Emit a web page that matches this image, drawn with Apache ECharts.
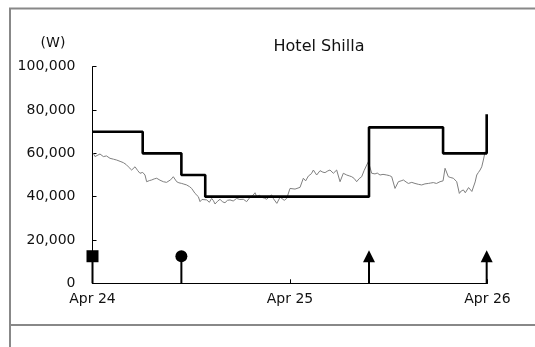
<!DOCTYPE html>
<html>
<head>
<meta charset="utf-8">
<script src="https://cdn.jsdelivr.net/npm/echarts@6/dist/echarts.min.js"></script>
<style>html,body{margin:0;padding:0;background:#fff}#c{width:535px;height:347px}</style>
</head>
<body>
<div id="c"></div>
<script>
// x values are hours from Apr 24 00:00
var xTickLabels = ['Apr 24', 'Apr 25', 'Apr 26'];
var yTickValues = [0, 20000, 40000, 60000, 80000, 100000];
var priceHours = [0.10,0.30,0.91,1.32,1.70,2.13,2.55,2.94,3.35,3.75,4.10,4.35,4.76,5.17,5.50,5.77,6.10,6.38,6.58,6.90,7.19,7.50,7.80,8.20,8.61,9.00,9.22,9.50,9.82,10.23,10.50,10.84,11.10,11.44,11.80,12.05,12.46,12.86,13.07,13.30,13.47,13.88,14.20,14.48,14.70,14.89,15.20,15.50,15.80,16.10,16.40,16.71,17.10,17.52,17.90,18.33,18.73,19.14,19.45,19.75,19.95,20.30,20.56,20.90,21.17,21.50,21.77,22.00,22.18,22.40,22.58,22.80,22.99,23.30,23.60,23.84,24.00,24.61,25.22,25.62,25.90,26.23,26.60,26.84,27.24,27.65,28.00,28.26,28.60,28.86,29.27,29.67,30.08,30.48,30.89,31.20,31.50,31.80,32.10,32.40,32.71,33.00,33.32,33.52,33.93,34.33,34.60,34.94,35.30,35.75,36.10,36.36,36.76,37.17,37.50,37.78,38.10,38.38,38.80,39.19,39.60,40.00,40.40,40.81,41.10,41.42,41.80,42.23,42.60,42.84,43.24,43.55,43.85,44.26,44.58,44.80,45.07,45.30,45.47,45.70,45.88,46.10,46.29,46.50,46.69,46.90,47.10,47.30,47.50,47.71,47.91];
var priceValues = [60000,58500,59700,58500,58800,57700,57300,56900,56300,55700,54800,53800,52300,53800,52000,50800,51200,50000,46900,47400,47700,48200,48500,47600,46900,46600,46100,47800,49200,46900,46400,46100,45800,45400,44600,43800,41500,40000,37700,38700,39200,38500,37400,39200,38100,36600,37900,38800,37600,37200,38300,38500,38000,39200,38700,38800,37700,39700,40400,41800,40000,40600,39700,39300,38800,40000,40800,39000,38500,36900,37700,39800,39200,38300,39200,39500,43800,43500,44300,48500,47300,49500,50600,52300,50000,52000,51300,51100,51900,52300,50800,52300,46900,50800,50000,49600,49200,48400,46900,48300,49200,52000,54600,56100,50800,50500,50900,50000,50300,50000,49700,49200,43800,46900,47300,47700,46800,46100,46600,46100,45700,45400,45900,46100,46300,46500,46100,46900,47300,53100,49200,48800,48500,46900,41500,42600,43100,41800,42300,44200,44600,42400,43100,46800,50000,51200,52300,53800,56900,60800];
var offerHours = [0, 6.1, 10.8, 13.7, 33.6, 42.6, 47.9];
var offerValues = [70000, 60000, 50000, 40000, 72000, 60000, 78000];
var eventHours = [0, 10.8, 33.6, 47.9];
var eventLevel = [12500, 12500, 12500, 12500];
var eventSymbols = ['rect', 'circle', 'triangle', 'triangle'];
var yUnit = '(W)';
var chartTitle = 'Hotel Shilla';

var chart = echarts.init(document.getElementById('c'), null, {renderer: 'canvas'});
var font = 'DejaVu Sans';
var textColor = '#111';
var priceData = priceHours.map(function (h, i) { return [h, priceValues[i]]; });
var offerData = offerHours.map(function (h, i) { return [h, offerValues[i]]; });
var stemData = eventHours.map(function (h, i) { return [h, eventLevel[i]]; });
var eventData = eventHours.map(function (h, i) {
  return { value: [h, eventLevel[i]], symbol: eventSymbols[i] };
});

chart.setOption({
  animation: false,
  backgroundColor: '#fff',
  grid: { left: 92.5, right: 47.5, top: 66.7, bottom: 63.7 },
  xAxis: {
    type: 'value', min: 0, max: 48, interval: 24,
    axisLine: { lineStyle: { color: '#000', width: 1 } },
    axisTick: { inside: true, length: 4, lineStyle: { color: '#000' } },
    splitLine: { show: false },
    axisLabel: {
      margin: 9, color: textColor, fontFamily: font, fontSize: 14,
      formatter: function (v) { return xTickLabels[Math.round(v / 24)]; }
    }
  },
  yAxis: {
    type: 'value', min: yTickValues[0], max: yTickValues[yTickValues.length - 1],
    interval: yTickValues[1] - yTickValues[0],
    axisLine: { show: true, lineStyle: { color: '#000', width: 1 } },
    axisTick: { show: true, inside: true, length: 4, lineStyle: { color: '#000' } },
    splitLine: { show: false },
    axisLabel: {
      margin: 17, color: textColor, fontFamily: font, fontSize: 14,
      formatter: function (v) { return v.toLocaleString('en-US'); }
    }
  },
  graphic: [
    { type: 'line', shape: { x1: 9, y1: 8.5, x2: 535, y2: 8.5 }, style: { stroke: '#888', lineWidth: 2 } },
    { type: 'line', shape: { x1: 10, y1: 8, x2: 10, y2: 347 }, style: { stroke: '#888', lineWidth: 2 } },
    { type: 'line', shape: { x1: 9, y1: 325, x2: 535, y2: 325 }, style: { stroke: '#888', lineWidth: 2 } },
    { type: 'text', x: 53, y: 43, style: { text: yUnit, fill: textColor, font: '14px "DejaVu Sans"', textAlign: 'center', textVerticalAlign: 'middle' } },
    { type: 'text', x: 319, y: 47, style: { text: chartTitle, fill: textColor, font: '16px "DejaVu Sans"', textAlign: 'center', textVerticalAlign: 'middle' } }
  ],
  series: [
    {
      type: 'line', data: priceData, showSymbol: false, symbol: 'none',
      lineStyle: { color: '#808080', width: 1 }, z: 2
    },
    {
      type: 'line', data: offerData, step: 'end', showSymbol: false, symbol: 'none',
      lineStyle: { color: '#000', width: 2.6 }, z: 3
    },
    {
      type: 'bar', data: stemData, barWidth: 2, itemStyle: { color: '#000' }, z: 4
    },
    {
      type: 'scatter', data: eventData, symbolSize: 12,
      itemStyle: { color: '#000', opacity: 1 }, z: 5
    }
  ]
});
</script>
</body>
</html>
